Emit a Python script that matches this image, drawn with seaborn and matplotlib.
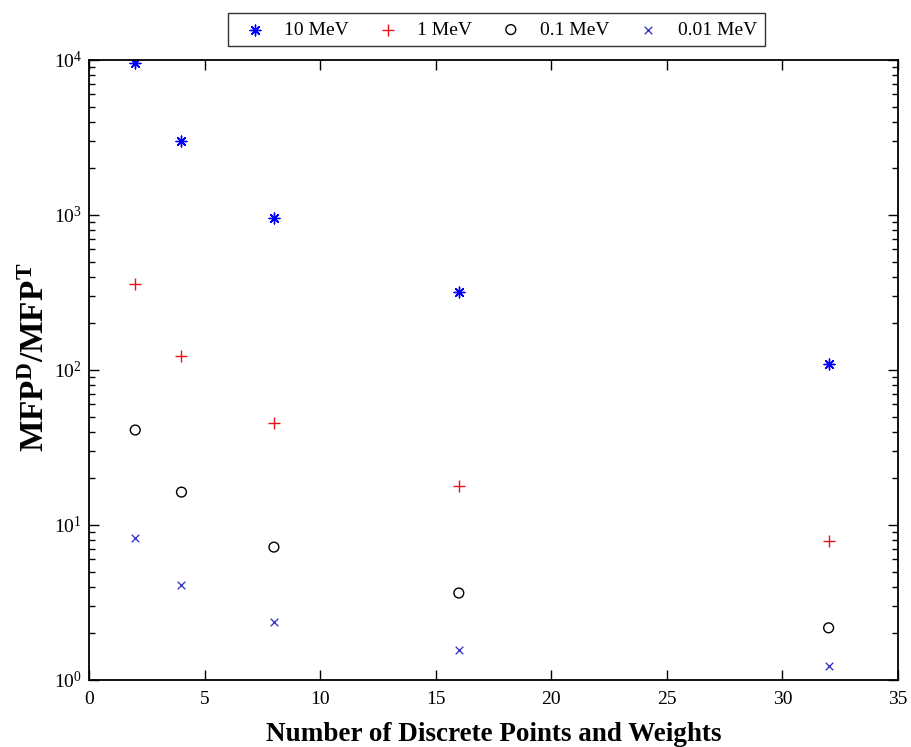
import matplotlib
matplotlib.use("Agg")
import matplotlib.pyplot as plt
import seaborn as sns
import pandas as pd
import numpy as np
from matplotlib.ticker import LogLocator, NullFormatter

sns.set_style("ticks")
plt.rcParams['font.family'] = ['Liberation Serif', 'DejaVu Serif']
plt.rcParams['mathtext.fontset'] = 'custom'
plt.rcParams['mathtext.rm'] = 'Liberation Serif'
plt.rcParams['mathtext.bf'] = 'Liberation Serif:bold'
for k in ['text.color', 'axes.labelcolor', 'xtick.color', 'ytick.color', 'axes.edgecolor']:
    plt.rcParams[k] = 'black'

points = [2, 4, 8, 16, 32]
series_names = ["10 MeV", "1 MeV", "0.1 MeV", "0.01 MeV"]
mev10 = [9500, 3000, 950, 318, 109]
mev1 = [359, 123, 45.5, 17.9, 7.9]
mev01 = [41, 16.3, 7.2, 3.64, 2.17]
mev001 = [8.2, 4.1, 2.37, 1.56, 1.23]

colors = ["#0000ff", "#e8101a", "#000000", "#3a3acc"]
markers = [(8, 2, 0), "+", "o", "x"]
sizes = [60, 70, 50, 30]

fig = plt.figure(figsize=(9.12, 7.47), dpi=100)
ax = fig.add_axes([0.0976, 0.0897, 0.8870, 0.8300])

for name, vals, c, m, s in zip(series_names, [mev10, mev1, mev01, mev001], colors, markers, sizes):
    df = pd.DataFrame({"x": points, "y": vals})
    kw = dict(color=c, linewidth=1.0)
    if m == "o":
        kw = dict(facecolor="none", edgecolor=c, linewidth=1.0)
    sns.scatterplot(data=df, x="x", y="y", ax=ax, marker=m, s=s, label=name, **kw)

ax.set_yscale("log")
ax.set_xlim(0, 35)
ax.set_ylim(1, 1e4)
ax.set_xticks([0, 5, 10, 15, 20, 25, 30, 35])
ax.yaxis.set_major_locator(LogLocator(base=10, numticks=10))
ax.yaxis.set_minor_locator(LogLocator(base=10, subs=np.arange(2, 10), numticks=100))
ax.yaxis.set_minor_formatter(NullFormatter())
ax.tick_params(which="both", direction="in", top=True, right=True, labelsize=14)
ax.tick_params(which="major", length=7, width=1)
ax.tick_params(which="minor", length=4, width=1)
ax.tick_params(axis="x", pad=8)
ax.tick_params(axis="y", pad=5)
for sp in ax.spines.values():
    sp.set_linewidth(1.3)
    sp.set_color("black")

ax.set_xlabel("Number of Discrete Points and Weights", fontsize=19.5, fontweight="bold", labelpad=10)
ax.set_ylabel(r"$\mathbf{MFP^D/MFP^T}$", fontsize=24, labelpad=2)
ax.yaxis.label.set_y(0.52)

ax.legend_.remove()
handles, labels = ax.get_legend_handles_labels()
leg = fig.legend(handles, labels, ncol=4, loc="center", bbox_to_anchor=(0.544, 0.960),
                 frameon=True, fancybox=False, edgecolor="black", fontsize=14,
                 handlelength=2.0, handletextpad=0.5, columnspacing=1.0, borderpad=0.4)
leg.get_frame().set_linewidth(1.0)

fig.savefig("out.png", dpi=100, facecolor="white")
